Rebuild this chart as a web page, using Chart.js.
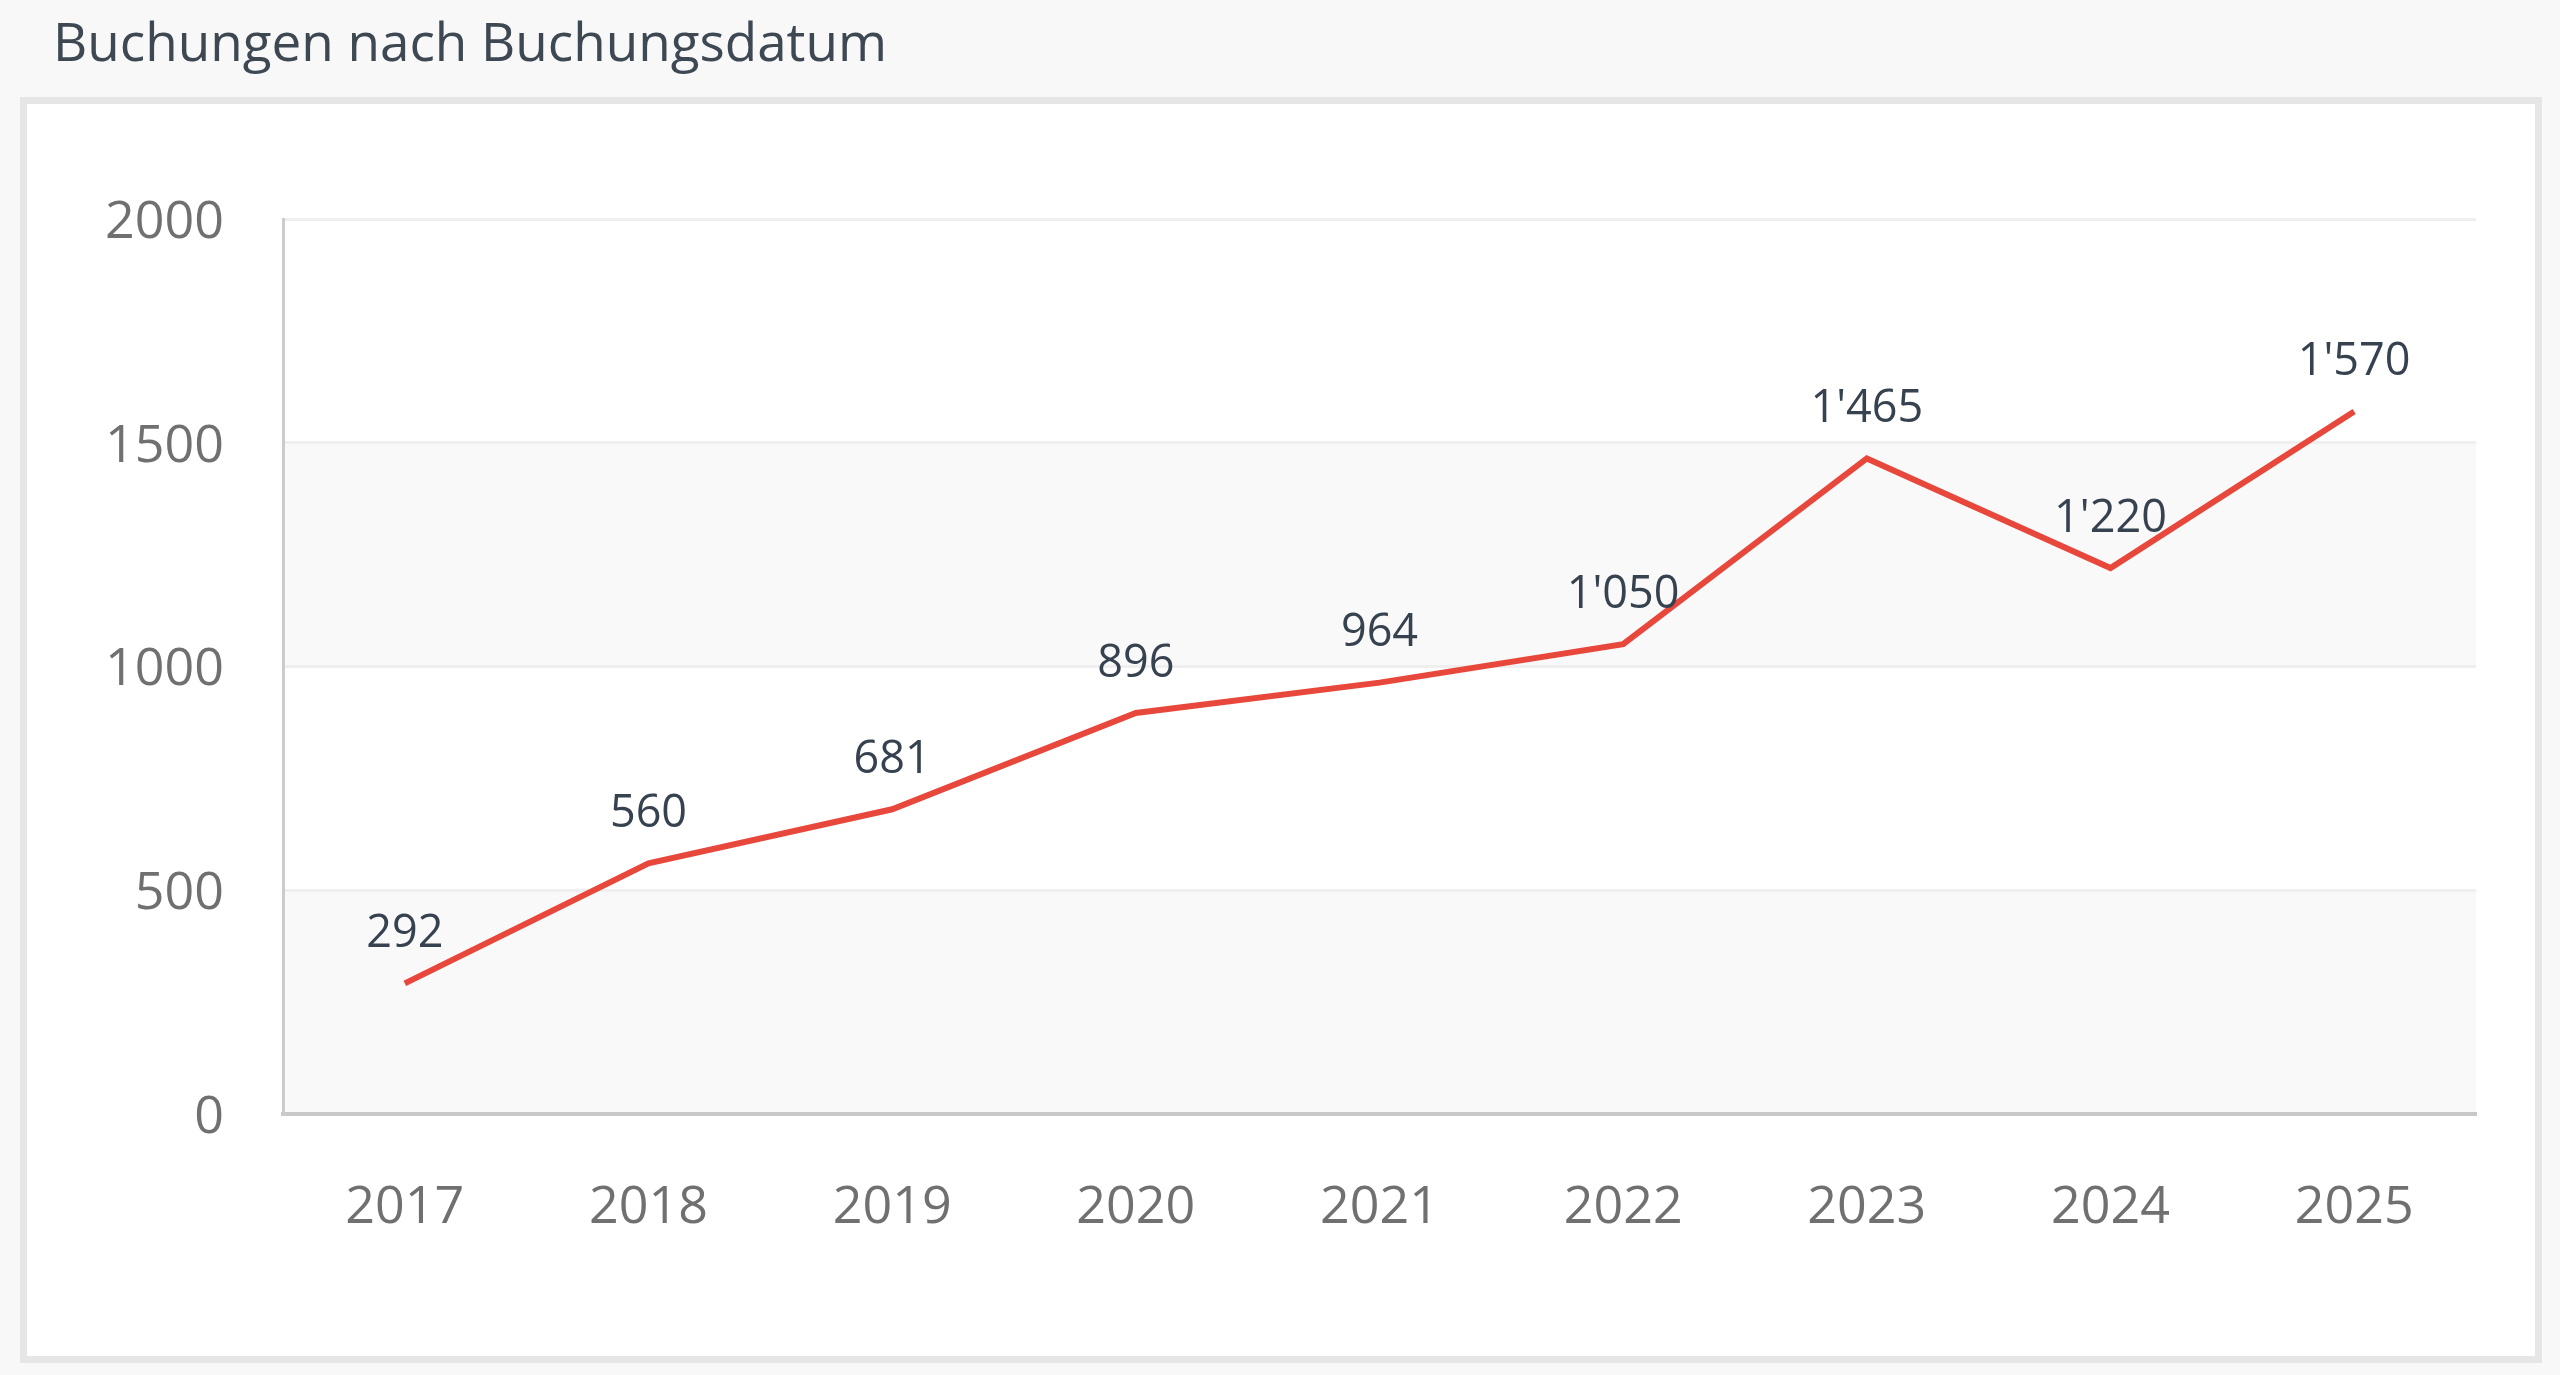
<!DOCTYPE html>
<html lang="de">
<head>
  <meta charset="UTF-8">
  <title>Buchungen nach Buchungsdatum</title>
  <script src="https://cdn.jsdelivr.net/npm/chart.js"></script>
  <style>
    html, body {
      margin: 0;
      padding: 0;
      width: 2560px;
      height: 1375px;
      overflow: hidden;
      background: #f8f8f8;
      font-family: "Open Sans", sans-serif;
    }
    #title {
      position: absolute;
      left: 53px;
      top: 4px;
      font-size: 53px;
      color: #3d4852;
      white-space: nowrap;
    }
    #card {
      position: absolute;
      left: 20px;
      top: 97px;
      width: 2522px;
      height: 1266px;
      box-sizing: border-box;
      border: 7px solid #e6e6e6;
      background: #fff;
    }
    #chartWrap {
      position: absolute;
      left: 0;
      top: 0;
      width: 2560px;
      height: 1375px;
    }
  </style>
</head>
<body>
  <div id="title">Buchungen nach Buchungsdatum</div>
  <div id="card"></div>
  <div id="chartWrap"><canvas id="bookingChart"></canvas></div>

  <script>
    const years = ['2017', '2018', '2019', '2020', '2021', '2022', '2023', '2024', '2025'];
    const bookings = [292, 560, 681, 896, 964, 1050, 1465, 1220, 1570];
    const yTicks = [0, 500, 1000, 1500, 2000];

    // 1570 -> 1'570
    function swissNumber(v) {
      return String(v).replace(/\B(?=(\d{3})+(?!\d))/g, "'");
    }

    // grey bands between every other pair of gridlines
    const bandPlugin = {
      id: 'bands',
      beforeDraw(chart) {
        const { ctx, chartArea, scales } = chart;
        ctx.save();
        ctx.fillStyle = '#f9f9f9';
        for (let i = 0; i < yTicks.length - 1; i += 2) {
          const top = scales.y.getPixelForValue(yTicks[i + 1]);
          const bottom = scales.y.getPixelForValue(yTicks[i]);
          ctx.fillRect(chartArea.left, top, chartArea.right - chartArea.left, bottom - top);
        }
        ctx.restore();
      }
    };

    const valueLabels = {
      id: 'valueLabels',
      afterDatasetsDraw(chart) {
        const { ctx } = chart;
        const meta = chart.getDatasetMeta(0);
        ctx.save();
        ctx.font = '45px "Open Sans"';
        ctx.fillStyle = '#36424f';
        ctx.textAlign = 'center';
        ctx.textBaseline = 'middle';
        meta.data.forEach((pt, i) => {
          ctx.fillText(swissNumber(bookings[i]), pt.x, pt.y - 49);
        });
        ctx.restore();
      }
    };

    new Chart(document.getElementById('bookingChart'), {
      type: 'line',
      data: {
        labels: years,
        datasets: [{
          data: bookings,
          borderColor: '#e8473b',
          borderWidth: 6,
          borderCapStyle: 'butt',
          pointRadius: 0,
          pointHoverRadius: 0,
          tension: 0,
          fill: false
        }]
      },
      options: {
        responsive: true,
        maintainAspectRatio: false,
        animation: false,
        events: [],
        layout: {
          padding: { left: 0, right: 84, top: 219, bottom: 112 }
        },
        plugins: {
          legend: { display: false },
          tooltip: { enabled: false }
        },
        scales: {
          x: {
            offset: true,
            afterFit(scale) { scale.height = 149; },
            grid: { display: true, color: 'transparent', drawTicks: false },
            border: { display: true, color: '#c8c8c8', width: 4 },
            ticks: {
              padding: 63,
              color: '#707070',
              font: { family: 'Open Sans', size: 52 }
            }
          },
          y: {
            min: 0,
            max: 2000,
            afterFit(scale) { scale.width = 283; },
            afterBuildTicks(scale) {
              scale.ticks = yTicks.map(v => ({ value: v }));
            },
            grid: { color: '#efefef', lineWidth: 3, drawTicks: false },
            border: { display: true, color: '#cccccc', width: 3 },
            ticks: {
              padding: 59,
              labelOffset: 4,
              color: '#707070',
              font: { family: 'Open Sans', size: 52 },
              callback: v => String(v)
            }
          }
        }
      },
      plugins: [bandPlugin, valueLabels]
    });
  </script>
</body>
</html>
